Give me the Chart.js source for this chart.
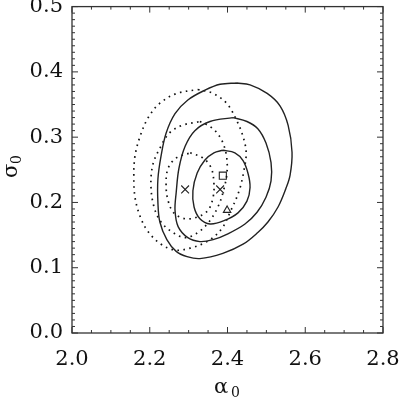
<!DOCTYPE html>
<html><head><meta charset="utf-8">
<script src="https://cdn.jsdelivr.net/npm/chart.js@4/dist/chart.umd.min.js"></script>
<style>html,body{margin:0;padding:0;background:#fff}#wrap{width:400px;height:398px}</style>
</head><body><div id="wrap"><canvas id="c" width="400" height="398"></canvas></div>
<script>
// ---- data (alpha0, sigma0) ----
const xTicks = [2.0, 2.2, 2.4, 2.6, 2.8];
const yTicks = [0.0, 0.1, 0.2, 0.3, 0.4, 0.5];
const xTitle = ['α', '0'];
const yTitle = ['σ', '0'];

const solidOuter = [[2.424,0.383],[2.458,0.380],[2.502,0.367],[2.535,0.348],[2.556,0.318],[2.566,0.277],[2.561,0.242],[2.550,0.221],[2.530,0.193],[2.504,0.170],[2.478,0.154],[2.440,0.136],[2.388,0.122],[2.329,0.114],[2.296,0.117],[2.268,0.125],[2.244,0.143],[2.226,0.170],[2.221,0.200],[2.221,0.236],[2.229,0.271],[2.242,0.306],[2.265,0.336],[2.298,0.357],[2.342,0.372],[2.381,0.381],[2.424,0.383]];
const solidMiddle = [[2.414,0.330],[2.450,0.324],[2.478,0.313],[2.499,0.291],[2.512,0.261],[2.512,0.233],[2.499,0.208],[2.476,0.185],[2.445,0.167],[2.401,0.152],[2.363,0.143],[2.329,0.140],[2.298,0.146],[2.273,0.163],[2.265,0.188],[2.268,0.215],[2.275,0.252],[2.291,0.286],[2.316,0.310],[2.355,0.324],[2.414,0.330]];
const solidInner = [[2.388,0.280],[2.419,0.276],[2.440,0.264],[2.453,0.244],[2.458,0.223],[2.450,0.202],[2.427,0.184],[2.391,0.172],[2.355,0.167],[2.329,0.175],[2.314,0.193],[2.311,0.218],[2.322,0.245],[2.342,0.265],[2.365,0.276],[2.388,0.280]];
const dotOuter = [[2.324,0.373],[2.363,0.367],[2.399,0.351],[2.424,0.325],[2.440,0.301],[2.448,0.276],[2.442,0.248],[2.430,0.218],[2.409,0.188],[2.383,0.158],[2.347,0.140],[2.304,0.130],[2.265,0.127],[2.229,0.136],[2.196,0.155],[2.175,0.179],[2.162,0.208],[2.159,0.241],[2.162,0.271],[2.175,0.301],[2.196,0.330],[2.226,0.352],[2.270,0.367],[2.324,0.373]];
const dotMiddle = [[2.329,0.324],[2.358,0.315],[2.381,0.300],[2.396,0.276],[2.399,0.248],[2.391,0.221],[2.376,0.194],[2.352,0.170],[2.324,0.154],[2.291,0.146],[2.257,0.155],[2.229,0.170],[2.211,0.193],[2.203,0.226],[2.208,0.258],[2.226,0.283],[2.250,0.306],[2.283,0.318],[2.329,0.324]];
const dotInner = [[2.304,0.276],[2.337,0.268],[2.358,0.253],[2.365,0.230],[2.363,0.208],[2.350,0.188],[2.324,0.178],[2.291,0.175],[2.262,0.184],[2.247,0.203],[2.242,0.227],[2.247,0.252],[2.268,0.268],[2.304,0.276]];

const crossPts = [[2.291,0.220],[2.381,0.220]];
const squarePts = [[2.388,0.241]];
const trianglePts = [[2.399,0.188]];

const toXY = a => a.map(p => ({x:p[0], y:p[1]}));
const FONT = '"DejaVu Serif", "Liberation Serif", serif';

function lineDs(arr, dotted){
  return {data: toXY(arr), showLine:true, pointRadius:0, borderColor: dotted ? '#111' : '#222',
    borderWidth: dotted ? 1.7 : 1.4, borderDash: dotted ? [1.6, 4.4] : [],
    tension:0.35, fill:false, borderCapStyle:'butt'};
}
function markDs(arr, style, r){
  return {data: toXY(arr), showLine:false, pointStyle:style, pointRadius:r,
    pointBorderColor:'#222', pointBackgroundColor:'rgba(0,0,0,0)', pointBorderWidth:1.1};
}

const frame = {
  id:'frame',
  afterDraw(chart){
    const {ctx, chartArea:a, scales:{x, y}} = chart;
    ctx.save();
    ctx.strokeStyle = '#333'; ctx.lineWidth = 1.3;
    ctx.strokeRect(a.left, a.top, a.right - a.left, a.bottom - a.top);
    ctx.lineWidth = 1;
    ctx.beginPath();
    const xmin = xTicks[0], xmax = xTicks[xTicks.length-1];
    const nx = Math.round((xmax - xmin) / 0.05);
    for (let i = 0; i <= nx; i++){
      const px = x.getPixelForValue(xmin + i*0.05);
      const L = (i % 4 === 0) ? 6 : 3;
      ctx.moveTo(px, a.bottom); ctx.lineTo(px, a.bottom - L);
      ctx.moveTo(px, a.top); ctx.lineTo(px, a.top + L);
    }
    const ymin = yTicks[0], ymax = yTicks[yTicks.length-1];
    const ny = Math.round((ymax - ymin) / 0.01);
    for (let i = 0; i <= ny; i++){
      const py = y.getPixelForValue(ymin + i*0.01);
      const L = (i % 10 === 0) ? 6 : 3;
      ctx.moveTo(a.left, py); ctx.lineTo(a.left + L, py);
      ctx.moveTo(a.right, py); ctx.lineTo(a.right - L, py);
    }
    ctx.stroke();
    // axis titles
    ctx.fillStyle = '#111';
    ctx.textAlign = 'left'; ctx.textBaseline = 'alphabetic';
    ctx.font = '21px ' + FONT;
    ctx.fillText(xTitle[0], 214, 393);
    ctx.font = '14px ' + FONT;
    ctx.fillText(xTitle[1], 231, 397);
    ctx.translate(17, 178);
    ctx.rotate(-Math.PI/2);
    ctx.font = '21px ' + FONT;
    ctx.fillText(yTitle[0], 0, 0);
    ctx.font = '14px ' + FONT;
    ctx.fillText(yTitle[1], 14, 4);
    ctx.restore();
  }
};

new Chart(document.getElementById('c'), {
  type:'scatter',
  data:{datasets:[
    lineDs(solidOuter,false), lineDs(solidMiddle,false), lineDs(solidInner,false),
    lineDs(dotOuter,true), lineDs(dotMiddle,true), lineDs(dotInner,true),
    markDs(crossPts,'crossRot',5.5), markDs(squarePts,'rect',5), markDs(trianglePts,'triangle',4.3)
  ]},
  options:{
    responsive:false, animation:false, devicePixelRatio:1,
    layout:{padding:{top:1, right:17, left:0, bottom:0}},
    plugins:{legend:{display:false}, tooltip:{enabled:false}},
    scales:{
      x:{type:'linear', min:xTicks[0], max:xTicks[xTicks.length-1],
        afterBuildTicks: s => { s.ticks = xTicks.map(v => ({value:v})); },
        grid:{display:false, drawTicks:false}, border:{display:false},
        ticks:{padding:14, color:'#111', font:{family:FONT, size:21}, maxRotation:0,
          callback: v => Number(v).toFixed(1)},
        afterFit: s => { s.height = 65; s.paddingLeft = 0; s.paddingRight = 0; }
      },
      y:{type:'linear', min:yTicks[0], max:yTicks[yTicks.length-1],
        afterBuildTicks: s => { s.ticks = yTicks.map(v => ({value:v})); },
        grid:{display:false, drawTicks:false}, border:{display:false},
        ticks:{padding:9, color:'#111', font:{family:FONT, size:21},
          callback: v => Number(v).toFixed(1)},
        afterFit: s => { s.width = 72; s.paddingTop = 0; s.paddingBottom = 0; }
      }
    }
  },
  plugins:[frame]
});
</script></body></html>
